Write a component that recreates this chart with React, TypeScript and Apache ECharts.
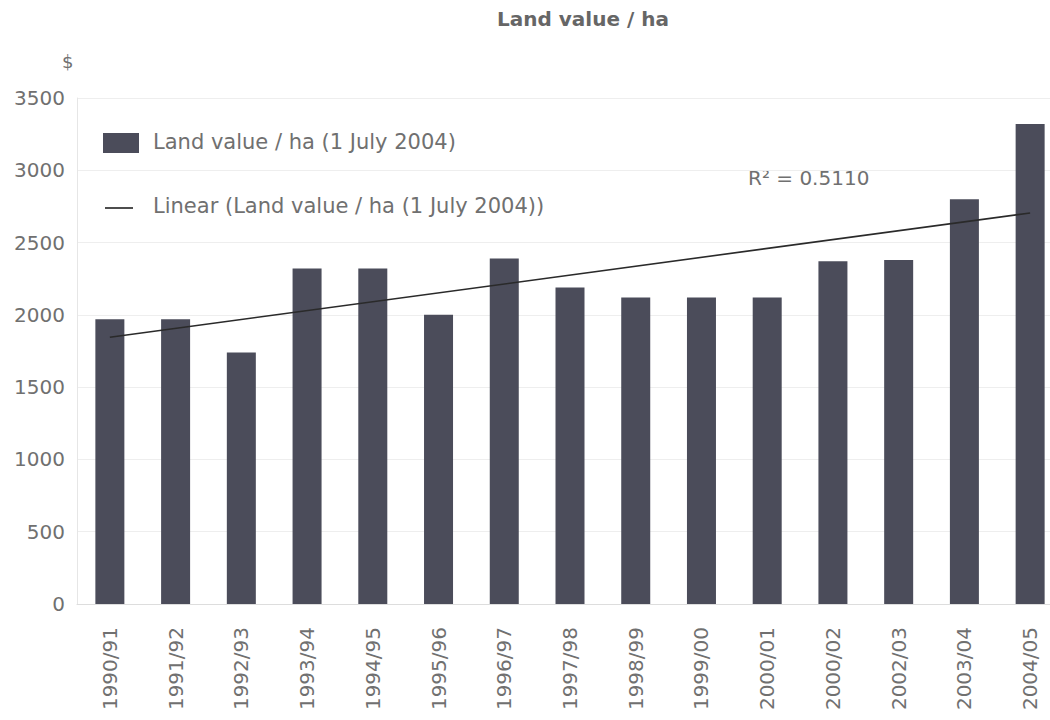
import React, { useEffect, useRef } from "react";
import * as echarts from "echarts";

const categories = [
  "1990/91", "1991/92", "1992/93", "1993/94", "1994/95", "1995/96", "1996/97", "1997/98",
  "1998/99", "1999/00", "2000/01", "2000/02", "2002/03", "2003/04", "2004/05",
];
const landValues = [1970, 1970, 1740, 2320, 2320, 2000, 2390, 2190, 2120, 2120, 2120, 2370, 2380, 2800, 3320];
const trendStart = 1845;
const trendEnd = 2705;
const yTicks = [0, 500, 1000, 1500, 2000, 2500, 3000, 3500];
const rSquaredText = "R\u00b2 = 0.5110";
const titleText = "Land value / ha";
const barLegend = "Land value / ha (1 July 2004)";
const lineLegend = "Linear (Land value / ha (1 July 2004))";

const FONT = "'DejaVu Sans', 'Liberation Sans', Arial, sans-serif";
const TEXT = "#707070";
const BAR = "#4b4c5a";

export default function App() {
  const ref = useRef<HTMLDivElement>(null);
  useEffect(() => {
    if (!ref.current) return;
    const chart = echarts.init(ref.current, null, { renderer: "svg" });
    const trendData = categories.map((_, i) =>
      i === 0 ? trendStart : i === categories.length - 1 ? trendEnd : null
    );
    chart.setOption({
      animation: false,
      backgroundColor: "#ffffff",
      textStyle: { fontFamily: FONT },
      grid: { left: 77, top: 98, width: 986, height: 506 },
      xAxis: {
        type: "category",
        data: categories,
        axisLine: { show: true, lineStyle: { color: "#dddddd", width: 1 } },
        axisTick: { show: false },
        axisLabel: {
          rotate: 90,
          margin: 23,
          color: TEXT,
          fontSize: 20,
          fontFamily: FONT,
          interval: 0,
        },
      },
      yAxis: {
        type: "value",
        min: yTicks[0],
        max: yTicks[yTicks.length - 1],
        interval: 500,
        axisLine: { show: true, lineStyle: { color: "#e6e6e6" } },
        axisTick: { show: false },
        splitLine: { show: true, lineStyle: { color: "#eeeeee", width: 1 } },
        axisLabel: {
          color: TEXT,
          fontSize: 20,
          fontFamily: FONT,
          margin: 12,
          formatter: (v: number) => String(v),
        },
      },
      series: [
        {
          name: barLegend,
          type: "bar",
          data: landValues,
          barWidth: 29,
          itemStyle: { color: BAR },
          z: 2,
        },
        {
          name: lineLegend,
          type: "line",
          data: trendData,
          connectNulls: true,
          showSymbol: false,
          symbol: "none",
          lineStyle: { color: "#2a2a2a", width: 1.6 },
          z: 3,
        },
      ],
      graphic: [
        {
          type: "text",
          x: 583,
          y: 9,
          style: {
            text: titleText,
            fill: "#666666",
            fontSize: 20,
            fontWeight: "bold",
            fontFamily: FONT,
            textAlign: "center",
            textVerticalAlign: "top",
          },
        },
        {
          type: "text",
          x: 62,
          y: 52,
          style: { text: "$", fill: TEXT, fontSize: 18, fontFamily: FONT, textVerticalAlign: "top" },
        },
        {
          type: "rect",
          shape: { x: 103, y: 133, width: 36, height: 20 },
          style: { fill: BAR },
        },
        {
          type: "text",
          x: 153,
          y: 131,
          style: { text: barLegend, fill: TEXT, fontSize: 21, fontFamily: FONT, textVerticalAlign: "top" },
        },
        {
          type: "line",
          shape: { x1: 105, y1: 208, x2: 133, y2: 208 },
          style: { stroke: "#222222", lineWidth: 1.6 },
        },
        {
          type: "text",
          x: 153,
          y: 195,
          style: { text: lineLegend, fill: TEXT, fontSize: 21, fontFamily: FONT, textVerticalAlign: "top" },
        },
        {
          type: "text",
          x: 748,
          y: 168,
          style: { text: rSquaredText, fill: TEXT, fontSize: 20, fontFamily: FONT, textVerticalAlign: "top" },
        },
      ],
    });
    return () => chart.dispose();
  }, []);
  return (
    <div
      style={{
        position: "fixed",
        left: 0,
        top: 0,
        width: 1050,
        height: 720,
        overflow: "hidden",
        background: "#fff",
      }}
    >
      <div ref={ref} style={{ width: 1100, height: 720 }} />
    </div>
  );
}
